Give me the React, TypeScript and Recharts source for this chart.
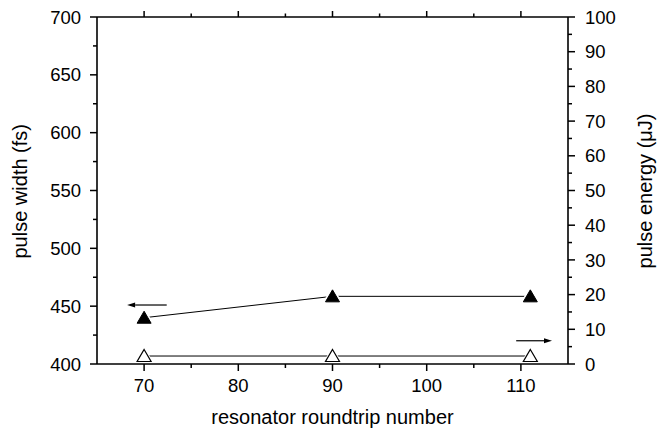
import { ComposedChart, Line, XAxis, YAxis, ReferenceLine } from "recharts";

// resonator roundtrip number vs pulse width (left) / pulse energy (right)
const roundtrips = [70, 90, 111];
const pulseWidth = [440, 458.5, 458.5];
const pulseEnergy = [2.3, 2.3, 2.3];

const xTicks = [70, 75, 80, 85, 90, 95, 100, 105, 110];
const xLabels = [70, 80, 90, 100, 110];
const leftTicks = [400, 425, 450, 475, 500, 525, 550, 575, 600, 625, 650, 675, 700];
const leftLabels = [400, 450, 500, 550, 600, 650, 700];
const rightTicks = [0, 5, 10, 15, 20, 25, 30, 35, 40, 45, 50, 55, 60, 65, 70, 75, 80, 85, 90, 95, 100];
const rightLabels = [0, 10, 20, 30, 40, 50, 60, 70, 80, 90, 100];

// arrow annotations: which axis each series belongs to
const leftArrow = [{ x: 72.4, y: 451 }, { x: 68.2, y: 451 }];
const rightArrow = [{ x: 109.5, y: 6.7 }, { x: 113.3, y: 6.7 }];

const data = roundtrips.map((r, i) => ({ r, width: pulseWidth[i], energy: pulseEnergy[i] }));

const FONT = "Arial, 'Liberation Sans', Helvetica, sans-serif";

function triangle(cx: number, cy: number) {
  return `M${cx},${cy - 6.5} L${cx + 7},${cy + 5.5} L${cx - 7},${cy + 5.5} Z`;
}

const FilledDot = (props: any) => {
  const { cx, cy } = props;
  if (cx == null || cy == null) return null;
  return (
    <g>
      <path d={triangle(cx, cy)} fill="#fff" stroke="#fff" strokeWidth={4} />
      <path d={triangle(cx, cy)} fill="#000" stroke="#000" strokeWidth={1} />
    </g>
  );
};

const OpenDot = (props: any) => {
  const { cx, cy } = props;
  if (cx == null || cy == null) return null;
  return (
    <g>
      <path d={triangle(cx, cy)} fill="#fff" stroke="#fff" strokeWidth={3} />
      <path d={triangle(cx, cy)} fill="#fff" stroke="#000" strokeWidth={1.2} />
    </g>
  );
};

const Arrow = (props: any) => {
  const { x1, y1, x2, y2 } = props;
  const dir = x2 > x1 ? 1 : -1;
  const tip = x2;
  const back = tip - dir * 8;
  return (
    <g>
      <line x1={x1} y1={y1} x2={back} y2={y2} stroke="#000" strokeWidth={1.2} />
      <path d={`M${tip},${y2} L${back},${y2 - 2.5} L${back},${y2 + 2.5} Z`} fill="#000" />
    </g>
  );
};

const BottomTick = ({ x, y, payload }: any) => {
  const major = xLabels.includes(payload.value);
  return (
    <g>
      <line x1={x} y1={y} x2={x} y2={y + (major ? 7 : 4)} stroke="#000" strokeWidth={1.5} />
      {major && (
        <text x={x} y={y + 28} textAnchor="middle" fontSize={18.5} fontFamily={FONT} fill="#000">
          {payload.value}
        </text>
      )}
    </g>
  );
};

const TopTick = ({ x, y, payload }: any) => {
  const major = xLabels.includes(payload.value);
  return <line x1={x} y1={y} x2={x} y2={y - (major ? 6 : 3.5)} stroke="#000" strokeWidth={1.5} />;
};

const LeftTick = ({ x, y, payload }: any) => {
  const major = leftLabels.includes(payload.value);
  return (
    <g>
      <line x1={x} y1={y} x2={x - (major ? 7 : 4)} y2={y} stroke="#000" strokeWidth={1.5} />
      {major && (
        <text x={x - 16} y={y + 6.6} textAnchor="end" fontSize={18.5} fontFamily={FONT} fill="#000">
          {payload.value}
        </text>
      )}
    </g>
  );
};

const RightTick = ({ x, y, payload }: any) => {
  const major = rightLabels.includes(payload.value);
  return (
    <g>
      <line x1={x} y1={y} x2={x + (major ? 7 : 4)} y2={y} stroke="#000" strokeWidth={1.5} />
      {major && (
        <text x={x + 17} y={y + 6.6} textAnchor="start" fontSize={18.5} fontFamily={FONT} fill="#000">
          {payload.value}
        </text>
      )}
    </g>
  );
};

export default function App() {
  return (
    <div style={{ position: "absolute", left: 0, top: 0, width: 665, height: 434, background: "#fff" }}>
      <ComposedChart width={665} height={434} data={data} margin={{ top: 12, right: 0, bottom: 0, left: 0 }}>
        <XAxis
          dataKey="r"
          type="number"
          domain={[65, 115]}
          ticks={xTicks}
          interval={0}
          tickSize={0}
          tickMargin={0}
          tickLine={false}
          tick={<BottomTick />}
          axisLine={{ stroke: "#000", strokeWidth: 1.6 }}
          height={70}
          label={{ value: "resonator roundtrip number", position: "insideBottom", offset: 10, fontSize: 20, fontFamily: FONT, fill: "#000" }}
        />
        <XAxis
          xAxisId="top"
          orientation="top"
          dataKey="r"
          type="number"
          domain={[65, 115]}
          ticks={xTicks}
          interval={0}
          tickSize={0}
          tickMargin={0}
          tickLine={false}
          tick={<TopTick />}
          axisLine={{ stroke: "#000", strokeWidth: 1.6 }}
          height={5}
        />
        <YAxis
          yAxisId="left"
          orientation="left"
          type="number"
          domain={[400, 700]}
          ticks={leftTicks}
          interval={0}
          tickSize={0}
          tickMargin={0}
          tickLine={false}
          tick={<LeftTick />}
          axisLine={{ stroke: "#000", strokeWidth: 1.6 }}
          width={97}
          label={{ value: "pulse width (fs)", angle: -90, position: "insideLeft", offset: 20, dy: 68, fontSize: 20, fontFamily: FONT, fill: "#000" }}
        />
        <YAxis
          yAxisId="right"
          orientation="right"
          type="number"
          domain={[0, 100]}
          ticks={rightTicks}
          interval={0}
          tickSize={0}
          tickMargin={0}
          tickLine={false}
          tick={<RightTick />}
          axisLine={{ stroke: "#000", strokeWidth: 1.6 }}
          width={97}
          label={{ value: "pulse energy (μJ)", angle: -90, position: "insideRight", offset: 20, dy: -77, fontSize: 20, fontFamily: FONT, fill: "#000" }}
        />
        <Line
          yAxisId="left"
          dataKey="width"
          type="linear"
          stroke="#000"
          strokeWidth={1}
          dot={<FilledDot />}
          activeDot={false}
          isAnimationActive={false}
        />
        <Line
          yAxisId="right"
          dataKey="energy"
          type="linear"
          stroke="#000"
          strokeWidth={1}
          dot={<OpenDot />}
          activeDot={false}
          isAnimationActive={false}
        />
        <ReferenceLine yAxisId="left" segment={leftArrow} shape={<Arrow />} />
        <ReferenceLine yAxisId="right" segment={rightArrow} shape={<Arrow />} />
      </ComposedChart>
    </div>
  );
}
